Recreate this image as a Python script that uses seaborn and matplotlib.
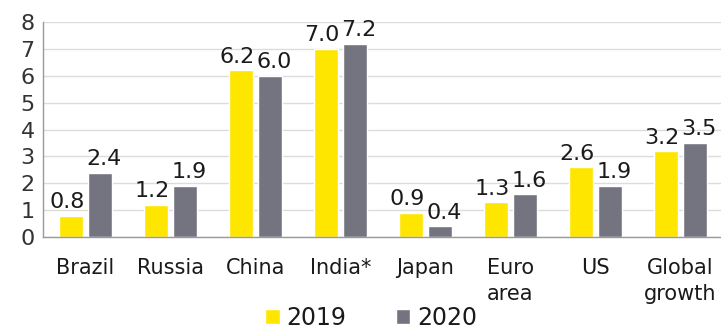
import matplotlib
matplotlib.use("Agg")
import matplotlib.pyplot as plt
import seaborn as sns
import pandas as pd
import numpy as np

categories = ["Brazil", "Russia", "China", "India*", "Japan", "Euro\narea", "US", "Global\ngrowth"]
values_2019 = [0.8, 1.2, 6.2, 7.0, 0.9, 1.3, 2.6, 3.2]
values_2020 = [2.4, 1.9, 6.0, 7.2, 0.4, 1.6, 1.9, 3.5]
series = ["2019", "2020"]
colors = ["#FFE600", "#747480"]

df = pd.DataFrame({
    "cat": categories * 2,
    "val": values_2019 + values_2020,
    "year": [series[0]] * len(categories) + [series[1]] * len(categories),
})

sns.set_style("white")
plt.rcParams["font.family"] = ["DejaVu Sans"]

fig = plt.figure(figsize=(7.21, 3.29), dpi=100)
ax = fig.add_axes([43 / 721, 1 - 237 / 329, (723 - 43) / 721, (237 - 22) / 329])

sns.barplot(data=df, x="cat", y="val", hue="year", palette=colors, width=0.68, gap=0.2,
            ax=ax, legend=True, saturation=1)

ax.set_ylim(0, 8)
ax.set_xlim(-0.5, len(categories) - 0.5)
ax.set_yticks(range(0, 9))
ax.yaxis.grid(True, color="#DCDCDC", lw=1)
ax.set_axisbelow(True)
ax.set_xlabel("")
ax.set_ylabel("")

offsets = [-3, 3]
for c, dx in zip(ax.containers, offsets):
    labels = [f"{v:.1f}" for v in c.datavalues]
    anns = ax.bar_label(c, labels=labels, padding=2, fontsize=16, color="#1a1a1a")
    for a in anns:
        a.xyann = (dx, 2.5)

ax.tick_params(axis="y", labelsize=16, labelcolor="#333333", length=4, color="#999999", pad=2)
ax.set_xticks(np.arange(len(categories)))
ax.set_xticklabels(categories, fontsize=15, color="#1a1a1a", linespacing=1.4, va="top")
ax.tick_params(axis="x", length=0, pad=15)
ax.set_xticks(np.arange(len(categories) + 1) - 0.5, minor=True)
ax.tick_params(axis="x", which="minor", length=8, color="#999999", width=1)

for s in ["top", "right"]:
    ax.spines[s].set_visible(False)
for s in ["left", "bottom"]:
    ax.spines[s].set_color("#999999")
    ax.spines[s].set_linewidth(1)

leg = ax.legend(loc="lower center", bbox_to_anchor=(0.483, -0.53), ncol=2, frameon=False,
                fontsize=17, handlelength=0.6, handleheight=0.6, columnspacing=2.1,
                handletextpad=0.3)
for t in leg.get_texts():
    t.set_color("#1a1a1a")

fig.savefig("out.png", dpi=100)
